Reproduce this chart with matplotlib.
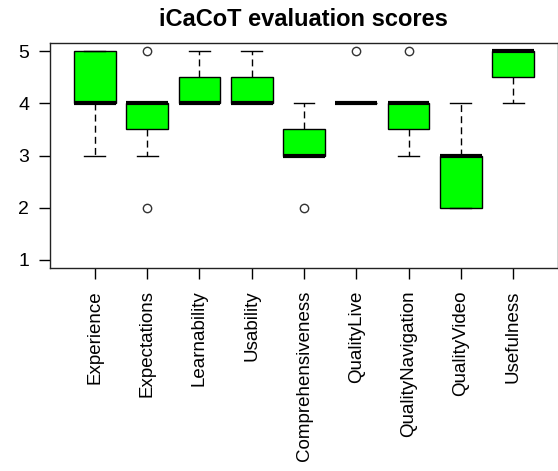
import matplotlib
matplotlib.use("Agg")
import matplotlib.pyplot as plt

# --- data ---
categories = ["Experience", "Expectations", "Learnability", "Usability",
              "Comprehensiveness", "QualityLive", "QualityNavigation",
              "QualityVideo", "Usefulness"]
q1      = [4.0, 3.5, 4.0, 4.0, 3.0, 4.0, 3.5, 2.0, 4.5]
median  = [4.0, 4.0, 4.0, 4.0, 3.0, 4.0, 4.0, 3.0, 5.0]
q3      = [5.0, 4.0, 4.5, 4.5, 3.5, 4.0, 4.0, 3.0, 5.0]
whislo  = [3.0, 3.0, 4.0, 4.0, 3.0, 4.0, 3.0, 2.0, 4.0]
whishi  = [5.0, 4.0, 5.0, 5.0, 4.0, 4.0, 4.0, 4.0, 5.0]
outliers = [[], [5, 2], [], [], [2], [5], [5], [], []]

plt.rcParams['font.family'] = ['Liberation Sans', 'DejaVu Sans']

stats = []
for i, name in enumerate(categories):
    stats.append(dict(label=name, med=median[i], q1=q1[i], q3=q3[i],
                      whislo=whislo[i], whishi=whishi[i], fliers=outliers[i]))

fig = plt.figure(figsize=(5.58, 4.71), dpi=100)
ax = fig.add_axes([50 / 558, 1 - 268 / 471, 1 - 50 / 558, 225 / 471])

ax.bxp(stats, widths=0.8, patch_artist=True,
       boxprops=dict(facecolor='#00ff00', edgecolor='black', linewidth=1.0),
       medianprops=dict(color='black', linewidth=3.0, solid_capstyle='butt'),
       whiskerprops=dict(color='black', linewidth=1.0, linestyle=(0, (5, 3))),
       capprops=dict(color='black', linewidth=1.0),
       capwidths=0.4,
       flierprops=dict(marker='o', markersize=6, markerfacecolor='white',
                       markeredgecolor='#333333', markeredgewidth=1.0))

ax.set_xlim(0.14, 9.86)
ax.set_ylim(0.84, 5.16)
ax.set_yticks([1, 2, 3, 4, 5])
ax.set_xticks(range(1, len(categories) + 1))
ax.set_xticklabels(categories, rotation=90, fontsize=13.5)
ax.tick_params(axis='y', labelsize=14, length=8, pad=7, width=1.0)
ax.tick_params(axis='x', length=8, pad=8, width=1.0)
for s in ax.spines.values():
    s.set_color('#222222')
    s.set_linewidth(1.0)

fig.text(303 / 558, 1 - 19 / 471, "iCaCoT evaluation scores", ha='center',
         va='center', fontsize=17, fontweight='bold')

fig.savefig("out.png", dpi=100)
